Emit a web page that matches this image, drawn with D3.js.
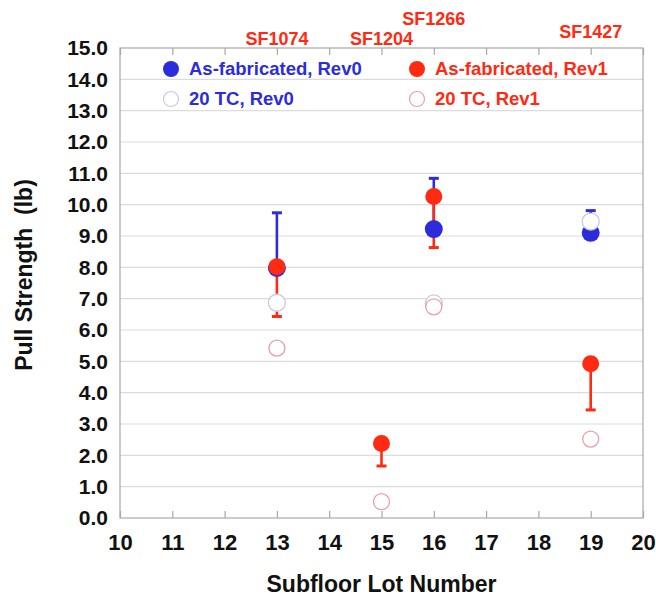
<!DOCTYPE html>
<html>
<head>
<meta charset="utf-8">
<script src="https://cdn.jsdelivr.net/npm/d3@7"></script>
<style>
  html, body { margin: 0; padding: 0; background: #fff; }
  svg { display: block; font-family: "Liberation Sans", Arial, Helvetica, sans-serif; }
</style>
</head>
<body>
<svg id="chart" width="656" height="598"></svg>
<script>
// Pull strength by subfloor lot, as-fabricated vs. after 20 thermal cycles
const rev0Lots = [13, 16, 19];
const rev0AsFab = [7.98, 9.22, 9.10];
const rev0AsFabHigh = [9.74, 10.84, 9.81];
const rev0TC20 = [6.87, 6.85, 9.46];

const rev1Lots = [13, 15, 16, 19];
const rev1AsFab = [8.02, 2.38, 10.26, 4.92];
const rev1AsFabLow = [6.43, 1.66, 8.63, 3.45];
const rev1TC20 = [5.42, 0.52, 6.74, 2.52];

const lotNames = ["SF1074", "SF1204", "SF1266", "SF1427"];
const lotNameLots = [13, 15, 16, 19];
const lotNameRow = [1, 1, 0, 0.65];   // stagger level for the top labels

const xTicks = d3.range(10, 21, 1);
const yTicks = d3.range(0, 15.01, 1);

const legendItems = [
  { label: "As-fabricated, Rev0", kind: "fill", series: 0 },
  { label: "As-fabricated, Rev1", kind: "fill", series: 1 },
  { label: "20 TC, Rev0", kind: "open", series: 0 },
  { label: "20 TC, Rev1", kind: "open", series: 1 }
];

const BLUE = "#2c2cdc";
const RED = "#ff2a12";
const BLUE_OPEN = "#c8c8e2";
const RED_OPEN = "#e8a0a8";
const seriesColor = [BLUE, RED];
const seriesOpen = [BLUE_OPEN, RED_OPEN];

const svg = d3.select("#chart");
const m = { left: 120, right: 13, top: 48, bottom: 80 };
const W = 656, H = 598;
const x = d3.scaleLinear().domain([10, 20]).range([m.left, W - m.right]);
const y = d3.scaleLinear().domain([0, 15]).range([H - m.bottom, m.top]);

// grid
svg.append("g").selectAll("line").data(yTicks.slice(1, -1)).join("line")
  .attr("x1", x(10)).attr("x2", x(20))
  .attr("y1", d => y(d)).attr("y2", d => y(d))
  .attr("stroke", "#dcdcdc").attr("stroke-width", 1.2);

// frame
svg.append("rect")
  .attr("x", x(10)).attr("y", y(15))
  .attr("width", x(20) - x(10)).attr("height", y(0) - y(15))
  .attr("fill", "none").attr("stroke", "#a8a8a8").attr("stroke-width", 1.2);

// inward ticks on bottom and top
const tickStyle = g => {
  g.select(".domain").remove();
  g.selectAll(".tick line").attr("stroke", "#a8a8a8").attr("stroke-width", 1.2);
};
svg.append("g").attr("transform", `translate(0,${y(0)})`)
  .call(d3.axisBottom(x).tickValues(xTicks).tickSize(-7).tickFormat(d3.format("d")).tickPadding(16))
  .call(tickStyle)
  .call(g => g.selectAll(".tick text")
    .attr("font-size", 22).attr("font-weight", "bold").attr("fill", "#111")
    .attr("font-family", "Liberation Sans, Arial, sans-serif"));
svg.append("g").attr("transform", `translate(0,${y(15)})`)
  .call(d3.axisTop(x).tickValues(xTicks).tickSize(-7).tickFormat(""))
  .call(tickStyle);

// y axis labels
svg.append("g").attr("transform", `translate(${x(10)},0)`)
  .call(d3.axisLeft(y).tickValues(yTicks).tickSize(0).tickPadding(12).tickFormat(d3.format(".1f")))
  .call(g => g.select(".domain").remove())
  .call(g => g.selectAll(".tick text")
    .attr("font-size", 21).attr("font-weight", "bold").attr("fill", "#111")
    .attr("font-family", "Liberation Sans, Arial, sans-serif"));

// axis titles
svg.append("text")
  .attr("transform", `translate(24,${(y(0) + y(15)) / 2 - 8}) rotate(-90)`)
  .attr("text-anchor", "middle").attr("dy", "0.35em")
  .attr("font-size", 23).attr("font-weight", "bold").attr("fill", "#111")
  .attr("xml:space", "preserve")
  .text("Pull Strength  (lb)");
svg.append("text")
  .attr("x", (x(10) + x(20)) / 2).attr("y", 592)
  .attr("text-anchor", "middle")
  .attr("font-size", 23).attr("font-weight", "bold").attr("fill", "#111")
  .text("Subfloor Lot Number");

// lot names above the frame
svg.append("g").selectAll("text").data(lotNames).join("text")
  .attr("x", (d, i) => x(lotNameLots[i]))
  .attr("y", (d, i) => 25 + lotNameRow[i] * 20)
  .attr("text-anchor", "middle")
  .attr("font-size", 18).attr("font-weight", "bold").attr("fill", RED)
  .text(d => d);

// series records
const rev0 = rev0Lots.map((lot, i) => ({ lot, v: rev0AsFab[i], e: rev0AsFabHigh[i], tc: rev0TC20[i] }));
const rev1 = rev1Lots.map((lot, i) => ({ lot, v: rev1AsFab[i], e: rev1AsFabLow[i], tc: rev1TC20[i] }));

// error bars
function errorBars(data, color) {
  const g = svg.append("g").attr("stroke", color);
  g.selectAll("line.stem").data(data).join("line")
    .attr("x1", d => x(d.lot)).attr("x2", d => x(d.lot))
    .attr("y1", d => y(d.v)).attr("y2", d => y(d.e))
    .attr("stroke-width", 2.6);
  g.selectAll("line.cap").data(data).join("line")
    .attr("x1", d => x(d.lot) - 5).attr("x2", d => x(d.lot) + 5)
    .attr("y1", d => y(d.e)).attr("y2", d => y(d.e))
    .attr("stroke-width", 3);
}
errorBars(rev0, BLUE);
errorBars(rev1, RED);

// filled markers
svg.append("g").selectAll("circle").data(rev0).join("circle")
  .attr("cx", d => x(d.lot)).attr("cy", d => y(d.v)).attr("r", 9)
  .attr("fill", BLUE);
svg.append("g").selectAll("circle").data(rev1).join("circle")
  .attr("cx", d => x(d.lot)).attr("cy", d => y(d.v)).attr("r", 8.5)
  .attr("fill", RED);

// open markers (after 20 thermal cycles)
svg.append("g").selectAll("circle").data(rev0).join("circle")
  .attr("cx", d => x(d.lot)).attr("cy", d => y(d.tc)).attr("r", 8.5)
  .attr("fill", "#fff").attr("stroke", BLUE_OPEN).attr("stroke-width", 1.3);
svg.append("g").selectAll("circle").data(rev1).join("circle")
  .attr("cx", d => x(d.lot)).attr("cy", d => y(d.tc)).attr("r", 8)
  .attr("fill", "#fff").attr("stroke", RED_OPEN).attr("stroke-width", 1.3);

// legend
const legCols = [171, 417];
const legRows = [69, 99];
const leg = svg.append("g").selectAll("g").data(legendItems).join("g")
  .attr("transform", (d, i) => `translate(${legCols[i % 2]},${legRows[Math.floor(i / 2)]})`);
leg.append("circle")
  .attr("r", d => d.kind === "fill" ? 8 : 7.5)
  .attr("fill", d => d.kind === "fill" ? seriesColor[d.series] : "#fff")
  .attr("stroke", d => d.kind === "fill" ? "none" : seriesOpen[d.series])
  .attr("stroke-width", 1.2);
leg.append("text")
  .attr("x", 18).attr("dy", "0.35em")
  .attr("font-size", 18.5).attr("font-weight", "bold")
  .attr("fill", d => seriesColor[d.series])
  .text(d => d.label);
</script>
</body>
</html>
